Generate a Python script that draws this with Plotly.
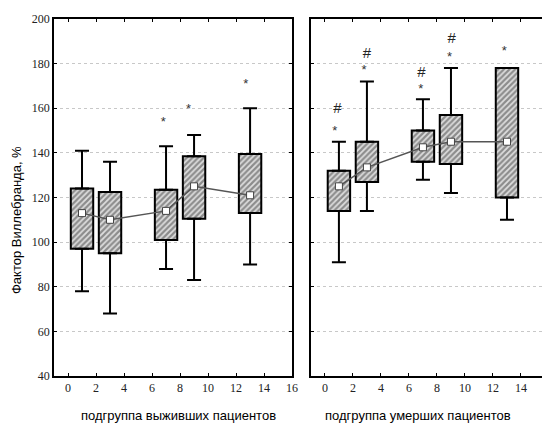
import numpy as np
import plotly.graph_objects as go
from plotly.subplots import make_subplots

# positions of the subgroups on the x axis
positions = [1, 3, 7, 9, 13]

# survivors (left panel)
surv_low = [78, 68, 88, 83, 90]
surv_q1 = [97, 95, 101, 110.5, 113]
surv_q3 = [124, 122.5, 123.5, 138.5, 139.5]
surv_high = [141, 136, 143, 148, 160]
surv_mean = [113, 110, 114, 125, 121]
surv_star_x = [6.8, 8.6, 12.7]
surv_star_y = [151.5, 157.5, 168.5]

# deceased (right panel)
dead_low = [91, 114, 128, 122, 110]
dead_q1 = [114, 127, 136, 135, 120]
dead_q3 = [132, 145, 150, 157, 178]
dead_high = [145, 172, 164, 178, 178]
dead_mean = [125, 133.5, 142.5, 145, 145]
dead_star_x = [0.7, 2.8, 6.85, 8.9, 12.8]
dead_star_y = [147.5, 175, 166.5, 180.5, 183.5]
dead_hash_x = [0.9, 3.0, 6.9, 9.05]
dead_hash_y = [156.5, 181, 172.5, 188]

fig = make_subplots(rows=1, cols=2, horizontal_spacing=0.038)


def add_panel(col, low, q1, q3, high, mean, star_x, star_y, hash_x=None, hash_y=None):
    q1 = np.array(q1)
    q3 = np.array(q3)
    # hatched boxes
    fig.add_trace(
        go.Bar(
            x=positions,
            y=q3 - q1,
            base=q1,
            width=1.6,
            marker=dict(
                color="#d8d8d8",
                line=dict(color="black", width=2),
                pattern=dict(shape="/", fgcolor="#3a3a3a", bgcolor="#dedede", size=4, solidity=0.55),
            ),
            showlegend=False,
        ),
        row=1,
        col=col,
    )
    # whiskers
    fig.add_trace(
        go.Scatter(
            x=positions,
            y=q3,
            mode="markers",
            marker=dict(size=1, color="rgba(0,0,0,0)"),
            error_y=dict(
                type="data",
                symmetric=False,
                array=np.array(high) - q3,
                arrayminus=[0] * len(positions),
                width=7,
                thickness=2,
                color="black",
            ),
            showlegend=False,
        ),
        row=1,
        col=col,
    )
    fig.add_trace(
        go.Scatter(
            x=positions,
            y=q1,
            mode="markers",
            marker=dict(size=1, color="rgba(0,0,0,0)"),
            error_y=dict(
                type="data",
                symmetric=False,
                array=[0] * len(positions),
                arrayminus=q1 - np.array(low),
                width=7,
                thickness=2,
                color="black",
            ),
            showlegend=False,
        ),
        row=1,
        col=col,
    )
    # means
    fig.add_trace(
        go.Scatter(
            x=positions,
            y=mean,
            mode="lines+markers",
            line=dict(color="#555555", width=1.5),
            marker=dict(symbol="square", size=7, color="white", line=dict(color="#444444", width=1)),
            showlegend=False,
        ),
        row=1,
        col=col,
    )
    # significance marks (text glyphs sit low in their box, so nudge up)
    fig.add_trace(
        go.Scatter(
            x=star_x,
            y=[v + 2 for v in star_y],
            mode="text",
            text=["*"] * len(star_x),
            textfont=dict(family="Liberation Sans", size=13, color="#333333"),
            showlegend=False,
        ),
        row=1,
        col=col,
    )
    if hash_x:
        fig.add_trace(
            go.Scatter(
                x=hash_x,
                y=[v + 3 for v in hash_y],
                mode="text",
                text=["#"] * len(hash_x),
                textfont=dict(family="Liberation Sans", size=15, color="#222222"),
                showlegend=False,
            ),
            row=1,
            col=col,
        )


add_panel(1, surv_low, surv_q1, surv_q3, surv_high, surv_mean, surv_star_x, surv_star_y)
add_panel(2, dead_low, dead_q1, dead_q3, dead_high, dead_mean, dead_star_x, dead_star_y, dead_hash_x, dead_hash_y)

axis_style = dict(
    showline=True,
    linecolor="black",
    linewidth=1.5,
    mirror="ticks",
    ticks="inside",
    ticklen=3,
    tickcolor="black",
    tickfont=dict(family="Liberation Serif", size=12, color="#222222"),
    zeroline=False,
)
fig.update_xaxes(range=[-1, 16], showgrid=False, **axis_style)
fig.update_xaxes(tickvals=[0, 2, 4, 6, 8, 10, 12, 14, 16], row=1, col=1)
fig.update_xaxes(tickvals=[0, 2, 4, 6, 8, 10, 12, 14], row=1, col=2)
fig.update_yaxes(
    range=[40, 200],
    dtick=20,
    showgrid=True,
    gridcolor="#c8c8c8",
    griddash="dot",
    gridwidth=1,
    **axis_style,
)
fig.update_yaxes(showticklabels=False, row=1, col=2)

title_font = dict(family="Liberation Sans", size=13, color="black")
fig.update_layout(
    width=550,
    height=423,
    margin=dict(l=46, r=3, t=11, b=55),
    plot_bgcolor="white",
    paper_bgcolor="white",
    xaxis=dict(domain=[0, 0.481]),
    xaxis2=dict(domain=[0.519, 1]),
    annotations=[
        dict(text="подгруппа выживших пациентов", x=0.251, y=-0.112, xref="paper", yref="paper",
             xanchor="center", yanchor="middle", showarrow=False, font=title_font),
        dict(text="подгруппа умерших пациентов", x=0.735, y=-0.112, xref="paper", yref="paper",
             xanchor="center", yanchor="middle", showarrow=False, font=title_font),
        dict(text="Фактор Виллебранда, %", x=-0.076, y=0.438, xref="paper", yref="paper",
             xanchor="center", yanchor="middle", textangle=-90, showarrow=False, font=title_font),
    ],
)
fig.write_html("out.html")
